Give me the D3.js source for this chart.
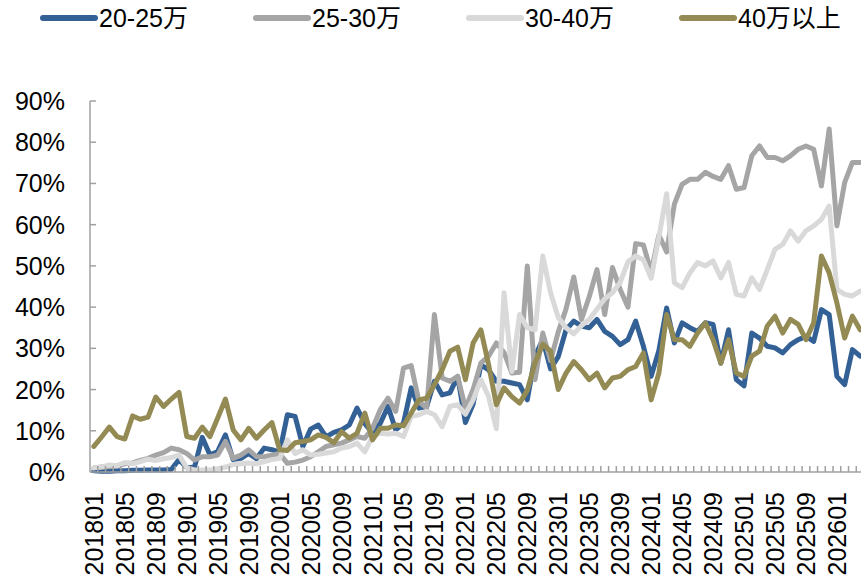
<!DOCTYPE html>
<html>
<head>
<meta charset="utf-8">
<title>price bands</title>
<script src="https://cdnjs.cloudflare.com/ajax/libs/d3/7.8.5/d3.min.js"></script>
<style>
  body { margin: 0; background: #fff; }
  svg text { font-family: "Liberation Sans", Arial, "Noto Sans CJK SC", sans-serif; fill: #000; }
</style>
</head>
<body>
<svg id="chart" width="861" height="578"></svg>
<script>
// months 201801 .. 202604
var months = [];
for (var yr = 2018; yr <= 2026; yr++) {
  for (var mo = 1; mo <= 12; mo++) {
    if (yr == 2026 && mo > 4) break;
    months.push(yr + (mo < 10 ? "0" : "") + mo);
  }
}

var tickLabels = ["201801","201805","201809","201901","201905","201909","202001","202005","202009",
  "202101","202105","202109","202201","202205","202209","202301","202305","202309",
  "202401","202405","202409","202501","202505","202509","202601"];

var yTicks = [0, 10, 20, 30, 40, 50, 60, 70, 80, 90];

var seriesNames = ["20-25万", "25-30万", "30-40万", "40万以上"];
var seriesColors = ["#336196", "#a5a5a5", "#d9d9d9", "#948a54"];

// share (%), one value per month
var s2025 = [0.3,0.2,0.2,0.3,0.3,0.4,0.4,0.5,0.5,0.5,0.6,3.0,
  1.0,1.2,8.4,4.1,5.0,9.0,3.0,3.3,4.5,3.2,5.8,5.4,
  4.8,13.9,13.5,6.2,10.4,11.4,8.5,9.6,10.2,11.4,15.5,11.8,
  9.4,11.8,15.9,10.2,11.8,20.4,15.5,15.9,22.0,18.7,19.2,23.2,
  12.0,16.5,26.0,24.8,22.0,22.0,21.6,21.2,17.5,28.1,32.1,25.0,
  28.0,34.5,36.6,35.4,35.0,37.0,34.1,32.9,30.9,32.1,36.6,30.5,
  23.2,29.5,39.8,31.3,36.2,35.0,34.1,36.2,35.8,26.4,34.5,22.4,
  20.9,33.7,32.5,30.5,30.1,28.9,30.9,32.1,32.9,31.7,39.4,38.2,
  23.2,21.2,29.7,28.1];

var s2530 = [1.0,1.2,1.3,1.5,2.0,2.2,2.8,3.3,4.1,4.7,5.8,5.4,
  4.5,2.9,3.7,3.7,4.1,7.4,3.3,4.1,5.4,3.7,3.7,4.1,
  4.5,2.1,2.4,2.9,3.7,4.9,6.2,6.6,7.0,7.8,8.6,8.2,
  10.6,15.1,17.9,14.7,25.2,25.8,17.1,15.5,38.2,22.8,22.0,23.2,
  15.5,20.0,26.4,28.1,31.3,29.0,24.0,24.2,50.0,22.4,33.7,27.0,
  34.0,39.5,47.3,37.0,42.5,49.1,38.2,49.6,44.3,40.0,55.4,55.1,
  48.5,57.5,53.4,65.0,69.8,71.0,71.0,72.7,71.7,71.0,74.3,68.6,
  69.0,76.7,79.1,76.3,76.3,75.5,76.7,78.3,79.1,78.3,69.4,83.2,
  59.7,70.2,75.1,75.1];

var s3040 = [1.0,1.2,1.7,1.5,2.3,2.0,2.5,3.1,2.8,3.2,3.5,4.1,
  1.0,0.5,0.5,0.5,0.8,1.2,1.8,2.0,2.2,2.0,2.5,3.0,
  3.3,7.8,4.5,5.4,4.1,4.3,4.6,4.9,5.8,6.2,7.0,4.9,
  8.6,9.4,9.2,9.4,8.6,13.5,13.9,14.7,13.9,11.0,15.9,16.3,
  14.0,17.5,22.4,18.3,10.5,43.5,24.4,38.2,35.0,34.5,52.4,43.5,
  37.5,35.0,33.5,35.5,37.0,39.5,42.0,43.5,46.0,51.0,52.4,51.5,
  47.0,57.0,67.5,45.9,44.7,48.3,50.8,50.0,51.2,47.1,50.8,43.1,
  42.7,47.1,44.3,49.1,54.0,55.2,58.5,56.0,58.5,59.7,61.3,64.5,
  44.3,43.1,42.7,43.9];

var s40up = [6.2,8.5,10.9,8.6,8.0,13.6,12.8,13.3,18.2,15.9,17.7,19.3,
  8.6,8.2,10.9,8.6,13.1,17.7,10.2,7.8,10.6,8.2,10.2,12.0,
  5.4,5.2,7.1,7.4,7.8,9.0,8.4,7.1,9.8,8.2,9.4,14.3,
  7.8,10.6,10.6,11.4,11.2,14.3,17.5,17.9,21.2,24.8,29.3,30.3,
  22.4,31.3,34.5,26.0,16.3,20.4,18.3,16.7,19.8,26.5,31.0,29.3,
  20.0,24.0,26.8,24.8,22.4,24.0,20.4,22.8,23.2,24.8,25.6,28.9,
  17.5,24.0,38.2,32.1,32.1,30.5,33.7,36.2,32.1,26.4,32.1,24.0,
  23.2,28.1,29.3,35.4,37.8,33.7,37.0,35.8,32.1,36.2,52.4,48.3,
  41.0,32.5,37.8,34.5];

var allSeries = [s2025, s2530, s3040, s40up];

var svg = d3.select("#chart");
var axisColor = "#a0a0a0";

var x = d3.scaleBand().domain(months).range([90, 864]).paddingInner(0).paddingOuter(0);
var y = d3.scaleLinear().domain([0, 90]).range([472, 101]);
var bw = x.bandwidth();

// y axis
var yAxis = svg.append("g");
yAxis.append("line")
  .attr("x1", 90).attr("x2", 90).attr("y1", y(90)).attr("y2", y(0))
  .attr("stroke", axisColor).attr("stroke-width", 1.5);
yAxis.selectAll("line.tk").data(yTicks).enter().append("line")
  .attr("class", "tk")
  .attr("x1", 90).attr("x2", 96)
  .attr("y1", d => y(d)).attr("y2", d => y(d))
  .attr("stroke", axisColor).attr("stroke-width", 1.5);
yAxis.selectAll("text").data(yTicks).enter().append("text")
  .attr("x", 65).attr("y", d => y(d)).attr("dy", "0.36em")
  .attr("text-anchor", "end")
  .style("font-size", "25px")
  .text(d => d + "%");

// lines
var line = d3.line()
  .x((d, i) => x(months[i]) + bw / 2)
  .y(d => y(d));

svg.append("g").selectAll("path").data(allSeries).enter().append("path")
  .attr("d", line)
  .attr("fill", "none")
  .attr("stroke", (d, i) => seriesColors[i])
  .attr("stroke-width", 5)
  .attr("stroke-linejoin", "round")
  .attr("stroke-linecap", "round");

// x axis
var xAxis = svg.append("g");
xAxis.append("line")
  .attr("x1", 90).attr("x2", 861).attr("y1", y(0)).attr("y2", y(0))
  .attr("stroke", axisColor).attr("stroke-width", 1.5);
xAxis.selectAll("line.tk").data(months).enter().append("line")
  .attr("class", "tk")
  .attr("x1", d => x(d) + bw).attr("x2", d => x(d) + bw)
  .attr("y1", y(0)).attr("y2", y(0) - 6)
  .attr("stroke", axisColor).attr("stroke-width", 1.5);
xAxis.selectAll("text").data(tickLabels).enter().append("text")
  .attr("transform", d => "translate(" + (x(d) + bw / 2) + ",492) rotate(-90)")
  .attr("dy", "0.36em")
  .attr("text-anchor", "end")
  .style("font-size", "25px")
  .text(d => d);

// legend
var legendX = [41, 254, 467, 680];
var leg = svg.append("g").selectAll("g").data(seriesNames).enter().append("g")
  .attr("transform", (d, i) => "translate(" + legendX[i] + ",18)");
leg.append("line")
  .attr("x1", 2).attr("x2", 54).attr("y1", 0).attr("y2", 0)
  .attr("stroke", (d, i) => seriesColors[i])
  .attr("stroke-width", 6)
  .attr("stroke-linecap", "round");
leg.append("text")
  .attr("x", 58).attr("dy", "0.36em")
  .style("font-size", "25px")
  .text(d => d);
</script>
</body>
</html>
